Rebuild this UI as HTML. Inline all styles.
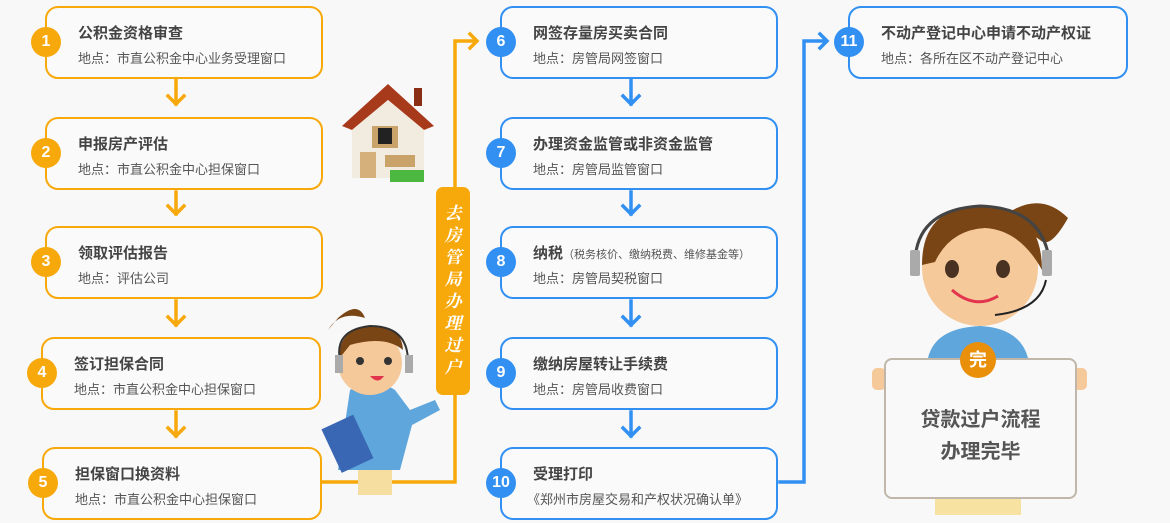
<!DOCTYPE html>
<html><head><meta charset="utf-8"><style>
*{margin:0;padding:0;box-sizing:border-box}
body{width:1170px;height:523px;background:#f8f8f8;position:relative;overflow:hidden;font-family:"Liberation Sans","Noto Sans CJK SC",sans-serif}
.b{position:absolute;width:278px;height:73px;border:2px solid;border-radius:13px;background:#fafafa}
.o{border-color:#f7a90c}.u{border-color:#3190f2}
.c{position:absolute;width:30px;height:30px;border-radius:50%;color:#fff;font-weight:bold;font-size:16px;text-align:center;line-height:30px;left:-16px;top:19px}
.o .c{background:#f7a90c}.u .c{background:#3190f2}
.t{position:absolute;left:31px;top:14px;font-size:15px;font-weight:bold;color:#444;white-space:nowrap}
.s{position:absolute;left:31px;top:40px;font-size:13px;color:#555;white-space:nowrap}
.a{position:absolute}
</style></head><body>
<svg class="a" style="left:0;top:0" width="1170" height="523">
<g fill="none" stroke-width="3.5" stroke-linecap="square">
<g stroke="#f7a90c">
<path d="M176 80V104M168 96L176 104L184 96"/><path d="M176 192V214M168 206L176 214L184 206"/><path d="M176 301V325M168 317L176 325L184 317"/><path d="M176 412V436M168 428L176 436L184 428"/>
<path d="M322 482H455V41H476M470 34L477 41L470 48"/>
</g>
<g stroke="#3190f2">
<path d="M631 80V104M623 96L631 104L639 96"/><path d="M631 192V214M623 206L631 214L639 206"/><path d="M631 301V325M623 317L631 325L639 317"/><path d="M631 412V436M623 428L631 436L639 428"/>
<path d="M780 482H804V41H826M820 34L827 41L820 48"/>
</g></g>
<!-- house -->
<polygon points="388,84 342,126 352,130 388,100 424,130 434,126" fill="#a83a1c"/>
<rect x="414" y="88" width="8" height="18" fill="#8a2e15"/>
<polygon points="352,130 388,100 424,130 424,178 352,178" fill="#f2ece0"/>
<rect x="372" y="126" width="26" height="22" fill="#c9a36a"/><rect x="378" y="128" width="14" height="16" fill="#222"/>
<rect x="360" y="152" width="16" height="26" fill="#d6b07a"/>
<rect x="385" y="155" width="30" height="12" fill="#c9a36a"/>
<rect x="390" y="170" width="34" height="12" fill="#4cb840"/>
<!-- monitor girl -->
<rect x="728" y="30" width="42" height="34" rx="3" fill="#dfe6ee" stroke="#aab"/>
<circle cx="711" cy="27" r="13" fill="#f5c99a"/><path d="M697 22Q711 4 726 20Q716 14 700 26Z" fill="#7a4514"/>
<path d="M692 66Q710 40 728 66Z" fill="#4aa0e0"/>
<!-- left girl -->
<rect x="358" y="455" width="34" height="40" fill="#f6dea0"/>
<path d="M338 470L350 390Q372 375 395 390L410 410L435 400L440 410L412 425L400 470Z" fill="#5ea6dc"/>
<rect x="330" y="420" width="35" height="48" transform="rotate(-25 347 444)" fill="#3a67b4"/>
<path d="M328 330Q340 310 365 318Q358 300 338 318Z" fill="#7a4514"/>
<circle cx="370" cy="363" r="32" fill="#f5c99a"/>
<path d="M338 360Q340 326 372 326Q402 326 403 350Q385 335 350 345Z" fill="#7a4514"/>
<circle cx="360" cy="361" r="4" fill="#333"/><circle cx="388" cy="361" r="4" fill="#333"/>
<path d="M370 376Q378 385 384 376Z" fill="#e2354d"/>
<path d="M340 360Q334 330 370 326Q408 326 408 362" fill="none" stroke="#333" stroke-width="2"/>
<rect x="335" y="355" width="8" height="18" fill="#aaa"/><rect x="405" y="355" width="8" height="18" fill="#aaa"/>
<!-- right girl -->
<rect x="935" y="495" width="86" height="20" fill="#f8e2a2"/>
<path d="M928 358Q935 328 980 326Q1020 328 1028 358Z" fill="#5ea6dc"/>
<path d="M1005 215Q1040 190 1068 218Q1050 250 1040 240Z" fill="#7a4514"/>
<circle cx="980" cy="268" r="58" fill="#f5c99a"/>
<path d="M922 265Q922 206 982 206Q1042 208 1042 270Q1020 230 985 228Q950 230 935 262Z" fill="#7a4514"/>
<ellipse cx="952" cy="269" rx="7" ry="9" fill="#4a3222"/><ellipse cx="1003" cy="269" rx="7" ry="9" fill="#4a3222"/>
<path d="M952 290Q975 310 998 296" fill="none" stroke="#e2354d" stroke-width="3"/>
<path d="M915 270Q912 210 980 206Q1048 208 1050 270" fill="none" stroke="#444" stroke-width="3"/>
<rect x="910" y="250" width="10" height="26" rx="2" fill="#aaa"/><rect x="1042" y="250" width="10" height="26" rx="2" fill="#aaa"/>
<path d="M1046 280Q1040 310 995 315" fill="none" stroke="#222" stroke-width="2"/>
<rect x="872" y="368" width="14" height="22" rx="5" fill="#f5c99a"/><rect x="1073" y="368" width="14" height="22" rx="5" fill="#f5c99a"/>
</svg>
<div class="a" style="left:884px;top:358px;width:193px;height:141px;border:2px solid #c0b6aa;border-radius:8px;background:#f9f9f9;text-align:center;padding-top:44px;font-size:20px;font-weight:bold;color:#555;line-height:32px">贷款过户流程<br>办理完毕</div>
<div class="a" style="left:960px;top:342px;width:36px;height:36px;border-radius:50%;background:#e98f0a;color:#fff;font-size:18px;font-weight:bold;text-align:center;line-height:36px">完</div>
<div class="a" style="left:436px;top:187px;width:34px;height:208px;background:#f7a90c;border-radius:7px;color:#fff;font-family:'Liberation Serif','Noto Serif CJK SC',serif;font-weight:bold;font-style:italic;font-size:17px;line-height:22px;text-align:center;padding-top:16px">去<br>房<br>管<br>局<br>办<br>理<br>过<br>户</div>

<div class="b o" style="left:45px;top:6px"><div class="c">1</div><div class="t">公积金资格审查</div><div class="s">地点：市直公积金中心业务受理窗口</div></div>
<div class="b o" style="left:45px;top:117px"><div class="c">2</div><div class="t">申报房产评估</div><div class="s">地点：市直公积金中心担保窗口</div></div>
<div class="b o" style="left:45px;top:226px"><div class="c">3</div><div class="t">领取评估报告</div><div class="s">地点：评估公司</div></div>
<div class="b o" style="left:41px;top:337px;width:280px"><div class="c">4</div><div class="t">签订担保合同</div><div class="s">地点：市直公积金中心担保窗口</div></div>
<div class="b o" style="left:42px;top:447px;width:280px"><div class="c">5</div><div class="t">担保窗口换资料</div><div class="s">地点：市直公积金中心担保窗口</div></div>

<div class="b u" style="left:500px;top:6px"><div class="c">6</div><div class="t">网签存量房买卖合同</div><div class="s">地点：房管局网签窗口</div></div>
<div class="b u" style="left:500px;top:117px"><div class="c">7</div><div class="t">办理资金监管或非资金监管</div><div class="s">地点：房管局监管窗口</div></div>
<div class="b u" style="left:500px;top:226px"><div class="c">8</div><div class="t">纳税<span style="font-size:11px;font-weight:normal;color:#555">（税务核价、缴纳税费、维修基金等）</span></div><div class="s">地点：房管局契税窗口</div></div>
<div class="b u" style="left:500px;top:337px"><div class="c">9</div><div class="t">缴纳房屋转让手续费</div><div class="s">地点：房管局收费窗口</div></div>
<div class="b u" style="left:500px;top:447px"><div class="c">10</div><div class="t">受理打印</div><div class="s" style="left:25px">《郑州市房屋交易和产权状况确认单》</div></div>

<div class="b u" style="left:848px;top:6px;width:280px"><div class="c">11</div><div class="t">不动产登记中心申请不动产权证</div><div class="s">地点：各所在区不动产登记中心</div></div>
</body></html>
